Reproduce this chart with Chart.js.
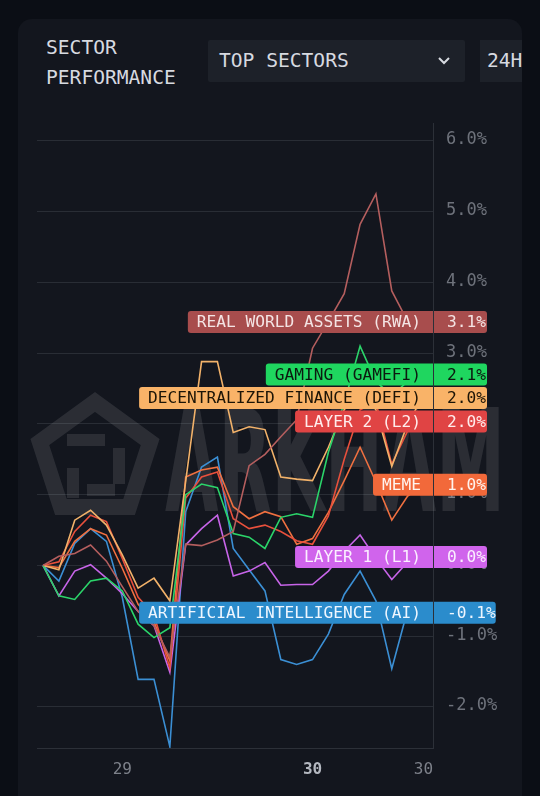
<!DOCTYPE html>
<html>
<head>
<meta charset="utf-8">
<script src="https://cdn.jsdelivr.net/npm/chart.js@4.4.1/dist/chart.umd.min.js"></script>
<style>
  html, body { margin: 0; padding: 0; background: #0b0e15; width: 540px; height: 796px; overflow: hidden; }
  .card { position: absolute; left: 18px; top: 19px; width: 504px; height: 800px; background: #13161e; border-radius: 14px; overflow: hidden; }
  .title { position: absolute; left: 28px; top: 14px; color: #d7dae0; font: 19.6px/30px "DejaVu Sans Mono", monospace; }
  .select { position: absolute; left: 190px; top: 21px; width: 257px; height: 42px; background: #1d2129; border-radius: 2px; color: #d7dae0; font: 19.6px/42px "DejaVu Sans Mono", monospace; }
  .select span { position: absolute; left: 11px; }
  .select svg { position: absolute; left: 230px; top: 17px; }
  .range { position: absolute; left: 462px; top: 21px; width: 60px; height: 42px; background: #1d2129; color: #d7dae0; font: 19.6px/42px "DejaVu Sans Mono", monospace; }
  .range span { position: absolute; left: 7px; }
  #wrap { position: absolute; left: 0; top: 81px; width: 504px; height: 696px; }
</style>
</head>
<body>
<div class="card">
  <div class="title">SECTOR<br>PERFORMANCE</div>
  <div class="select"><span>TOP SECTORS</span>
    <svg width="12" height="8" viewBox="0 0 12 8"><path d="M1 1 L6 6 L11 1" stroke="#d7dae0" stroke-width="2" fill="none"/></svg>
  </div>
  <div class="range"><span>24H</span></div>
  <div id="wrap"><canvas id="sectorChart" width="504" height="696"></canvas></div>
</div>
<script>
// hourly points over the 24h window
const hours = [0, 1, 2, 3, 4, 5, 6, 7, 8, 9, 10, 11, 12, 13, 14, 15, 16, 17, 18, 19, 20, 21, 22, 23, 24];
const xTickAt = [5, 17, 24];
const xTickText = ['29', '30', '30'];
const xTickBold = [false, true, false];

const sectorNames = ['REAL WORLD ASSETS (RWA)', 'GAMING (GAMEFI)', 'DECENTRALIZED FINANCE (DEFI)', 'LAYER 2 (L2)', 'MEME', 'LAYER 1 (L1)', 'ARTIFICIAL INTELLIGENCE (AI)'];
const sectorChange = ['3.1%', '2.1%', '2.0%', '2.0%', '1.0%', '0.0%', '-0.1%'];

const rwa    = [0, 0.13, 0.17, 0.29, 0.06, -0.3, -0.65, -0.85, -1.3, 0.3, 0.28, 0.36, 0.48, 1.41, 1.57, 1.82, 2.06, 3.07, 3.45, 3.84, 4.82, 5.25, 3.88, 3.45, 3.44];
const gaming = [0, -0.43, -0.48, -0.22, -0.18, -0.36, -0.83, -1.02, -0.88, 1.0, 1.15, 1.1, 0.45, 0.4, 0.24, 0.68, 0.73, 0.68, 1.6, 2.3, 3.1, 2.6, 2.4, 2.6, 2.7];
const defi   = [0, -0.06, 0.64, 0.78, 0.57, 0.15, -0.32, -0.18, -0.5, 1.19, 2.88, 2.88, 1.88, 1.96, 1.92, 1.25, 1.22, 1.2, 1.67, 2.2, 2.5, 2.2, 1.4, 2.0, 2.4];
const layer2 = [0, 0.05, 0.48, 0.71, 0.62, 0.1, -0.45, -0.7, -1.45, 0.95, 1.25, 1.32, 0.66, 0.52, 0.57, 0.48, 0.35, 0.3, 0.7, 1.5, 2.2, 2.3, 1.43, 1.9, 2.05];
const meme   = [0, -0.03, 0.34, 0.52, 0.43, -0.04, -0.55, -0.8, -1.35, 1.25, 1.35, 1.39, 0.83, 0.66, 0.76, 0.69, 0.3, 0.38, 0.75, 1.2, 1.67, 1.18, 0.64, 0.98, 1.14];
const layer1 = [0, -0.43, -0.08, 0.01, -0.18, -0.4, -0.65, -0.85, -1.51, 0.29, 0.52, 0.71, -0.15, -0.08, 0.04, -0.28, -0.27, -0.27, -0.08, 0.2, 0.43, 0.1, -0.2, 0.05, 0.12];
const ai     = [0, -0.22, 0.31, 0.52, 0.34, -0.45, -1.61, -1.61, -2.56, 0.76, 1.39, 1.53, 0.24, -0.06, -0.36, -1.33, -1.4, -1.33, -0.97, -0.41, -0.08, -0.5, -1.46, -0.63, -0.67];

const seriesList = [rwa, gaming, defi, layer2, meme, layer1, ai];
const lineColors = ['#b45e5e', '#2bd46a', '#f2b26a', '#e8503c', '#f07040', '#c764e8', '#3b8fd4'];
const boxColors  = ['#a84d4d', '#1fd65f', '#f9b368', '#e04444', '#f2693a', '#d064ec', '#2b8ccc'];
const boxText    = ['#f4e4e4', '#0c1a10', '#1c1406', '#ffecec', '#fff4ee', '#fbefff', '#eef6ff'];

const MONO = '"DejaVu Sans Mono", monospace';

function isBoldTick(c) {
    return !!(c.tick && xTickBold[xTickAt.indexOf(c.tick.value)]);
}

/* =====================
   Watermark behind lines
   ===================== */
const watermark = {
    id: 'watermark',
    beforeDatasetsDraw(chart) {
        const ctx = chart.ctx;
        ctx.save();
        ctx.fillStyle = 'rgba(255,255,255,0.1)';
        ctx.strokeStyle = 'rgba(255,255,255,0.1)';
        // logo: pentagon ring with inner bars
        const cx = 77, cy = 360, r = 58;
        ctx.lineWidth = 16;
        ctx.beginPath();
        for (let i = 0; i < 5; i++) {
            const a = -Math.PI / 2 + i * 2 * Math.PI / 5;
            const px = cx + r * Math.cos(a), py = cy + r * Math.sin(a);
            if (i === 0) ctx.moveTo(px, py); else ctx.lineTo(px, py);
        }
        ctx.closePath();
        ctx.stroke();
        ctx.lineWidth = 12;
        ctx.beginPath();
        ctx.moveTo(cx - 28, cy - 20); ctx.lineTo(cx + 10, cy - 20);
        ctx.moveTo(cx - 22, cy + 8); ctx.lineTo(cx - 22, cy + 38);
        ctx.moveTo(cx + 24, cy - 12); ctx.lineTo(cx + 24, cy + 24);
        ctx.moveTo(cx - 8, cy + 30); ctx.lineTo(cx + 20, cy + 30);
        ctx.stroke();
        // word mark
        ctx.font = 'bold 142px "DejaVu Sans", sans-serif';
        ctx.textBaseline = 'alphabetic';
        const w = ctx.measureText('ARKHAM').width;
        ctx.translate(147, 411);
        ctx.scale(340 / w, 1);
        ctx.fillText('ARKHAM', 0, 0);
        ctx.restore();
    }
};

/* =====================
   End labels on the right
   ===================== */
const endLabels = {
    id: 'endLabels',
    afterDraw(chart) {
        const ctx = chart.ctx;
        const yScale = chart.scales.y;
        const right = chart.chartArea.right;
        const h = 22, gap = 23.5;
        const items = seriesList.map((s, i) => ({ i, y: yScale.getPixelForValue(s[s.length - 1]) }));
        items.sort((a, b) => a.y - b.y);
        for (let k = 1; k < items.length; k++) {
            if (items[k].y < items[k - 1].y + gap) items[k].y = items[k - 1].y + gap;
        }
        ctx.save();
        ctx.font = '16.2px ' + MONO;
        ctx.textBaseline = 'middle';
        items.forEach(it => {
            const i = it.i, y = it.y;
            const name = sectorNames[i];
            const nw = ctx.measureText(name).width;
            ctx.fillStyle = boxColors[i];
            ctx.beginPath();
            ctx.roundRect(right - nw - 21, y - h / 2, nw + 21, h, [3, 0, 0, 3]);
            ctx.fill();
            const val = sectorChange[i];
            const vw = ctx.measureText(val).width;
            ctx.beginPath();
            ctx.roundRect(right + 1, y - h / 2, Math.max(53, vw + 13), h, [0, 3, 3, 0]);
            ctx.fill();
            ctx.fillStyle = boxText[i];
            ctx.textAlign = 'right';
            ctx.fillText(name, right - 12, y + 1);
            ctx.textAlign = 'left';
            ctx.fillText(val, right + 14, y + 1);
        });
        ctx.restore();
    }
};

const sectorCtx = document.getElementById('sectorChart');
new Chart(sectorCtx, {
    type: 'line',
    data: {
        labels: hours,
        datasets: seriesList.map((s, i) => ({
            label: sectorNames[i],
            data: s,
            borderColor: lineColors[i],
            borderWidth: 1.6,
            pointRadius: 0,
            tension: 0,
            fill: false
        }))
    },
    options: {
        responsive: false,
        animation: false,
        layout: { padding: { left: 19, top: 18, right: 0, bottom: 0 } },
        plugins: {
            legend: { display: false },
            tooltip: { enabled: false }
        },
        scales: {
            x: {
                type: 'linear',
                min: -0.38,
                max: 24.6,
                afterBuildTicks: (scale) => { scale.ticks = xTickAt.map(v => ({ value: v })); },
                afterFit: (scale) => { scale.height = 48; },
                grid: { display: false, drawTicks: false },
                border: { display: true, color: '#2c3038', width: 1 },
                ticks: {
                    padding: 12,
                    maxRotation: 0,
                    autoSkip: false,
                    color: (c) => isBoldTick(c) ? '#b4b8c0' : '#7d818a',
                    font: (c) => ({ family: MONO, size: 16, weight: isBoldTick(c) ? 'bold' : 'normal' }),
                    callback: (v) => xTickText[xTickAt.indexOf(v)]
                }
            },
            y: {
                position: 'right',
                min: -2.58,
                max: 6.25,
                afterFit: (scale) => { scale.width = 89; },
                grid: { color: '#292d35', lineWidth: 1, drawTicks: false },
                border: { display: true, color: '#2c3038', width: 1 },
                ticks: {
                    stepSize: 1,
                    includeBounds: false,
                    padding: 13,
                    labelOffset: -1,
                    color: '#6e727b',
                    font: { family: MONO, size: 17 },
                    callback: (v) => v.toFixed(1) + '%'
                }
            }
        }
    },
    plugins: [watermark, endLabels]
});
</script>
</body>
</html>
